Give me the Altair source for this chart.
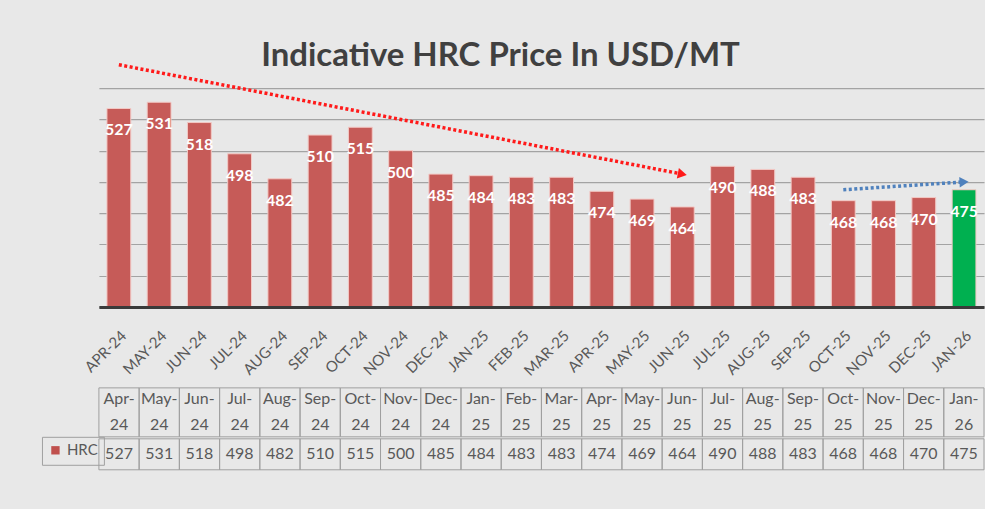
import altair as alt
import pandas as pd

# ---------------- data ----------------
months = ["Apr-24", "May-24", "Jun-24", "Jul-24", "Aug-24", "Sep-24", "Oct-24", "Nov-24",
          "Dec-24", "Jan-25", "Feb-25", "Mar-25", "Apr-25", "May-25", "Jun-25", "Jul-25",
          "Aug-25", "Sep-25", "Oct-25", "Nov-25", "Dec-25", "Jan-26"]
hrc = [527, 531, 518, 498, 482, 510, 515, 500, 485, 484, 483, 483, 474, 469, 464, 490,
       488, 483, 468, 468, 470, 475]
latest_months = ["Jan-26"]
series_name = "HRC"
title_text = "Indicative HRC Price In USD/MT"

# trend arrows (annotation)
arrow_start = ["Apr-24", "Oct-25"]
arrow_end = ["Jun-25", "Jan-26"]
arrow_start_value = [555, 475]
arrow_end_value = [485, 480]
arrow_color = ["#ff1a1a", "#4f81bd"]
arrow_angle = [11, 357]

# ---------------- frames ----------------
bars_df = pd.DataFrame({
    "month": months,
    "value": hrc,
    "kind": ["latest" if m in latest_months else "regular" for m in months],
})
arrows_df = pd.DataFrame({
    "start": arrow_start, "end": arrow_end,
    "sv": arrow_start_value, "ev": arrow_end_value,
    "color": arrow_color, "angle": arrow_angle,
})
table_df = pd.DataFrame({"month": months, "value": hrc, "series": series_name})

FONT = "Lato"
GREY = "#595959"

x_scale = alt.Scale(domain=months, paddingInner=0.408, paddingOuter=0.2)
x_axis = alt.Axis(title=None, labelAngle=-45, labelExpr="upper(datum.label)",
                  labelFont=FONT, labelFontSize=15, labelColor=GREY,
                  ticks=False, domainColor="#3a3a3a", domainWidth=3,
                  labelPadding=21, grid=False, zindex=1)
y_scale = alt.Scale(domain=[400, 540], nice=False, zero=False)
y_axis = alt.Axis(title=None, labels=False, ticks=False, domain=False,
                  values=list(range(400, 541, 20)),
                  gridColor="#a3a3a3", gridWidth=1.2)


def X(field):
    return alt.X(field, scale=x_scale, axis=x_axis)


def Y(field):
    return alt.Y(field, scale=y_scale, axis=y_axis)


base = alt.Chart(bars_df)
bars = base.mark_bar(stroke="#f3c9c5", strokeWidth=1, clip=True).encode(
    x=X("month:N"), y=Y("value:Q"),
    color=alt.Color("kind:N", scale=alt.Scale(domain=["regular", "latest"],
                                              range=["#c65b58", "#00b050"]), legend=None),
)
labels = base.mark_text(color="white", font=FONT, fontWeight="bold", fontSize=16,
                        baseline="middle", dy=22).encode(
    x=X("month:N"), y=Y("value:Q"), text="value:Q")

arrow_lines = alt.Chart(arrows_df).mark_rule(strokeWidth=3.5, strokeDash=[3, 2.5]).encode(
    x=X("start:N"), x2="end:N",
    y=Y("sv:Q"), y2="ev:Q",
    stroke=alt.Stroke("color:N", scale=None),
)
arrow_heads = alt.Chart(arrows_df).mark_point(shape="triangle-right", filled=True,
                                              size=110, opacity=1).encode(
    x=X("end:N"), y=Y("ev:Q"),
    angle=alt.Angle("angle:Q", scale=None),
    fill=alt.Fill("color:N", scale=None),
)

top = alt.layer(bars, labels, arrow_lines, arrow_heads).properties(
    width=886, height=219,
    title=alt.Title(title_text, font=FONT, fontSize=33, fontWeight="bold",
                    color="#404040", anchor="middle", dx=-41, offset=-10),
)

x_tab = alt.X("month:N", scale=alt.Scale(domain=months, paddingInner=0, paddingOuter=0),
              axis=None)
CELL = dict(fillOpacity=0, stroke="#a0a0a0", strokeWidth=1)

tb = alt.Chart(table_df)
header = alt.layer(
    tb.mark_rect(**CELL).encode(x=x_tab),
    tb.mark_text(font=FONT, fontSize=16, color=GREY, lineBreak="\n", lineHeight=26,
                 baseline="middle", dy=-13).encode(x=x_tab, text="hdr:N"),
).transform_calculate(hdr="replace(datum.month, '-', '-\\n')").properties(width=886, height=49)

values = alt.layer(
    tb.mark_rect(**CELL).encode(x=x_tab),
    tb.mark_text(font=FONT, fontSize=16, color=GREY, baseline="middle").encode(
        x=x_tab, text="value:Q"),
    tb.mark_point(shape="square", filled=True, opacity=0).encode(
        x=x_tab,
        color=alt.Color("series:N", scale=alt.Scale(range=["#c0504d"]),
                        legend=alt.Legend(orient="none", legendX=-57, legendY=49,
                                          title=None, symbolType="square", symbolSize=70,
                                          symbolOpacity=1, labelFont=FONT,
                                          labelFontSize=15, labelColor=GREY,
                                          strokeColor="#a0a0a0", padding=6,
                                          labelOffset=4)),
    ),
).properties(width=886, height=31)

table = alt.vconcat(header, values, spacing=0)

chart = alt.vconcat(top, table, spacing=8).resolve_scale(
    x="independent", color="independent"
).properties(
    padding={"left": 41, "top": 39, "right": 0, "bottom": 41},
    background="#e8e8e8",
).configure_view(strokeWidth=0)

chart.save("out.html", embed_options={"renderer": "svg", "actions": False})
